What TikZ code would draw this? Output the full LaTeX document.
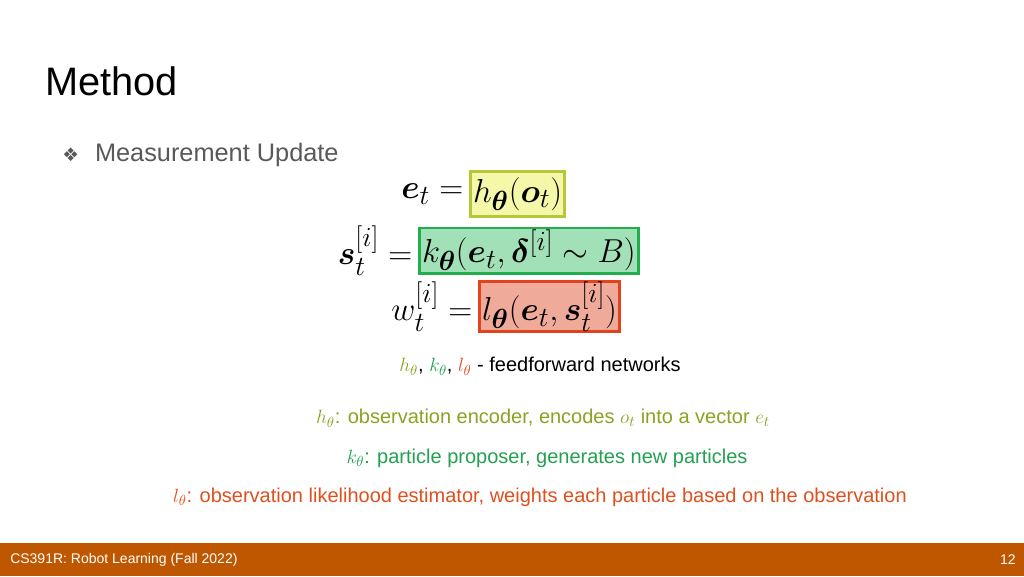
\documentclass[tikz,border=0pt]{standalone}
\usepackage{fontspec}
\usepackage{amsmath,bm}
\setmainfont{Liberation Sans}
\newfontfamily\dejavu{DejaVu Sans}
\definecolor{utor}{HTML}{BF5700}
\definecolor{yfill}{HTML}{F4F8A8}\definecolor{ydraw}{HTML}{B4C83A}
\definecolor{gfill}{HTML}{A2E0B8}\definecolor{gdraw}{HTML}{22AE4C}
\definecolor{rfill}{HTML}{F0AA9A}\definecolor{rdraw}{HTML}{E2421E}
\definecolor{hcol}{HTML}{8AA322}\definecolor{kcol}{HTML}{23A052}\definecolor{lcol}{HTML}{E0501E}
\begin{document}
\begin{tikzpicture}[x=0.75pt,y=-0.75pt,
  eqbox/.style={draw,line width=2pt,inner xsep=2pt,inner ysep=0pt,minimum height=34pt,font=\fontsize{29}{32}\selectfont},
  eqtxt/.style={inner sep=0pt,font=\fontsize{29}{32}\selectfont},
  body/.style={inner sep=0pt,font=\fontsize{15}{18}\selectfont}]
\useasboundingbox (0,0) rectangle (1024,576);
\fill[white] (0,0) rectangle (1024,576);
\node[anchor=west,inner sep=0pt,font=\fontsize{29.8}{32}\selectfont] (title) at (45,81) {Method};
\node[anchor=west,inner sep=0pt,text=black!65,font=\fontsize{19}{22}\selectfont] (sub) at (62,155) {{\dejavu\fontsize{14}{16}\selectfont ❖}\hspace{12pt}Measurement Update};
% equations
\node[eqbox,fill=yfill,draw=ydraw,anchor=west] (b1) at (469,194) {$h_{\bm\theta}(\bm o_t)$};
\node[eqtxt,anchor=east] (q1) at (b1.west) {$\bm e_t =\,$};
\node[eqbox,fill=gfill,draw=gdraw,anchor=west] (b2) at (418,250.5) {$k_{\bm\theta}(\bm e_t,\bm\delta^{[i]}\sim B)$};
\node[eqtxt,anchor=east] (q2) at (b2.west) {$\bm s_t^{[i]} =\,$};
\node[eqbox,fill=rfill,draw=rdraw,anchor=west] (b3) at (478,306.5) {$l_{\bm\theta}(\bm e_t,\bm s_t^{[i]})$};
\node[eqtxt,anchor=east] (q3) at (b3.west) {$w_t^{[i]} =\,$};
% text lines
\node[body] (t1) at (540,366) {$\color{hcol}h_\theta$, $\color{kcol}k_\theta$, $\color{lcol}l_\theta$ - feedforward networks};
\node[body,text=hcol] (t2) at (543,418) {$h_\theta$: observation encoder, encodes $o_t$ into a vector $e_t$};
\node[body,text=kcol] (t3) at (547,458) {$k_\theta$: particle proposer, generates new particles};
\node[body,text=lcol] (t4) at (540,497) {$l_\theta$: observation likelihood estimator, weights each particle based on the observation};
% footer
\fill[utor] (0,543) rectangle (1024,576);
\node[anchor=west,inner sep=0pt,text=white,font=\fontsize{10.5}{12}\selectfont] (foot) at (10,560) {CS391R: Robot Learning (Fall 2022)};
\node[anchor=east,inner sep=0pt,text=white,font=\fontsize{10.5}{12}\selectfont] (page) at (1016,560) {12};
\end{tikzpicture}
\end{document}
